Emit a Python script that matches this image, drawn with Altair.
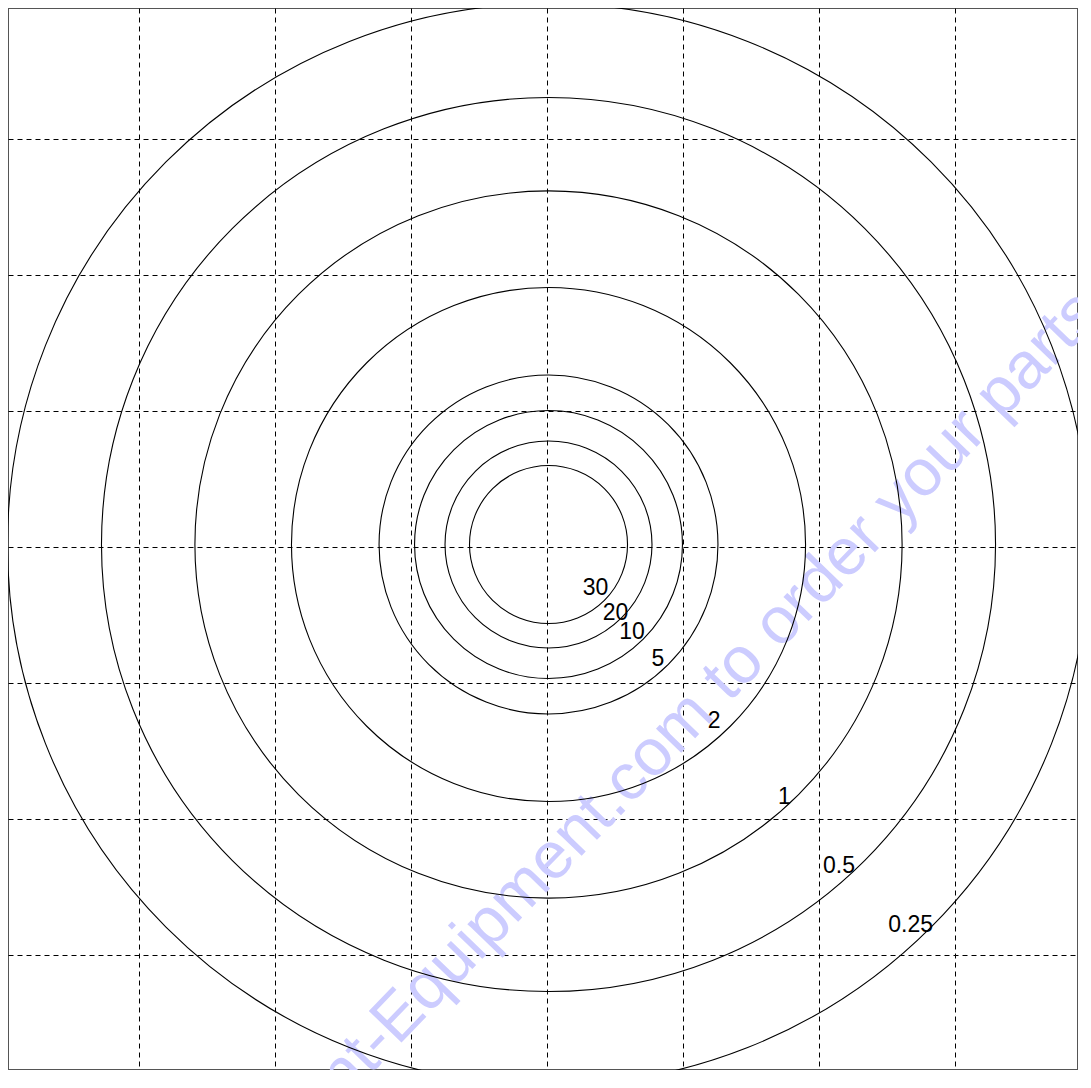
import altair as alt
import pandas as pd

# Contour levels and their circle radii (grid units; one grid cell = 1 unit)
levels = ["0.25", "0.5", "1", "2", "5", "10", "20", "30"]
radii = [3.978, 3.287, 2.600, 1.890, 1.246, 0.985, 0.761, 0.581]
center_x = [0.011] * 8
center_y = [0.018] * 8

# Label positions (grid units)
label_x = [2.673, 2.147, 1.746, 1.228, 0.816, 0.625, 0.504, 0.357]
label_y = [-2.783, -2.346, -1.842, -1.279, -0.824, -0.629, -0.485, -0.305]

grid_values = [-3, -2, -1, 0, 1, 2, 3]

# Watermark
wm_text = ["Discount-Equipment.com to order your parts"]
wm_x = [-2.522]
wm_y = [-5.147]

circles = pd.DataFrame({"level": levels, "r": radii, "cx": center_x, "cy": center_y})
labels = pd.DataFrame({"level": levels, "x": label_x, "y": label_y})
wm = pd.DataFrame({"t": wm_text, "x": wm_x, "y": wm_y})

W, H = 1070, 1062
xs = alt.Scale(domain=[-3.963, 3.904], nice=False, zero=False)
ys = alt.Scale(domain=[-3.846, 3.963], nice=False, zero=False)

grid_axis = dict(values=grid_values, grid=True, gridDash=[5, 4], gridColor="#000000",
                 gridWidth=1, gridOpacity=1, labels=False, ticks=False, domain=False, title=None)

base_grid = alt.Chart(circles).mark_point(opacity=0).encode(
    x=alt.X("cx:Q", scale=xs, axis=alt.Axis(**grid_axis)),
    y=alt.Y("cy:Q", scale=ys, axis=alt.Axis(**grid_axis)),
)

watermark = alt.Chart(wm).mark_text(
    angle=314, align="left", baseline="alphabetic", fontSize=66,
    font="Liberation Sans", color="#ccccff"
).encode(
    x=alt.X("x:Q", scale=xs),
    y=alt.Y("y:Q", scale=ys),
    text="t:N",
)

rings = alt.Chart(circles).mark_arc(
    theta=0, theta2=6.28319, fillOpacity=0, stroke="black", strokeWidth=1.1
).encode(
    x=alt.X("cx:Q", scale=xs),
    y=alt.Y("cy:Q", scale=ys),
    radius=alt.Radius("r:Q", stack=None,
                      scale=alt.Scale(type="linear", domain=[0, 1], range=[0, 136], zero=True)),
)

text = alt.Chart(labels).mark_text(
    fontSize=23, font="Liberation Sans", color="black", align="center", baseline="middle"
).encode(
    x=alt.X("x:Q", scale=xs),
    y=alt.Y("y:Q", scale=ys),
    text="level:N",
)

chart = alt.layer(watermark, base_grid, rings, text).properties(
    width=W, height=H, padding=0, background="white",
    autosize=alt.AutoSizeParams(type="none"),
).configure_view(stroke="#555555", strokeWidth=2)

chart.save("out.html", embed_options={"renderer": "svg", "actions": False})
